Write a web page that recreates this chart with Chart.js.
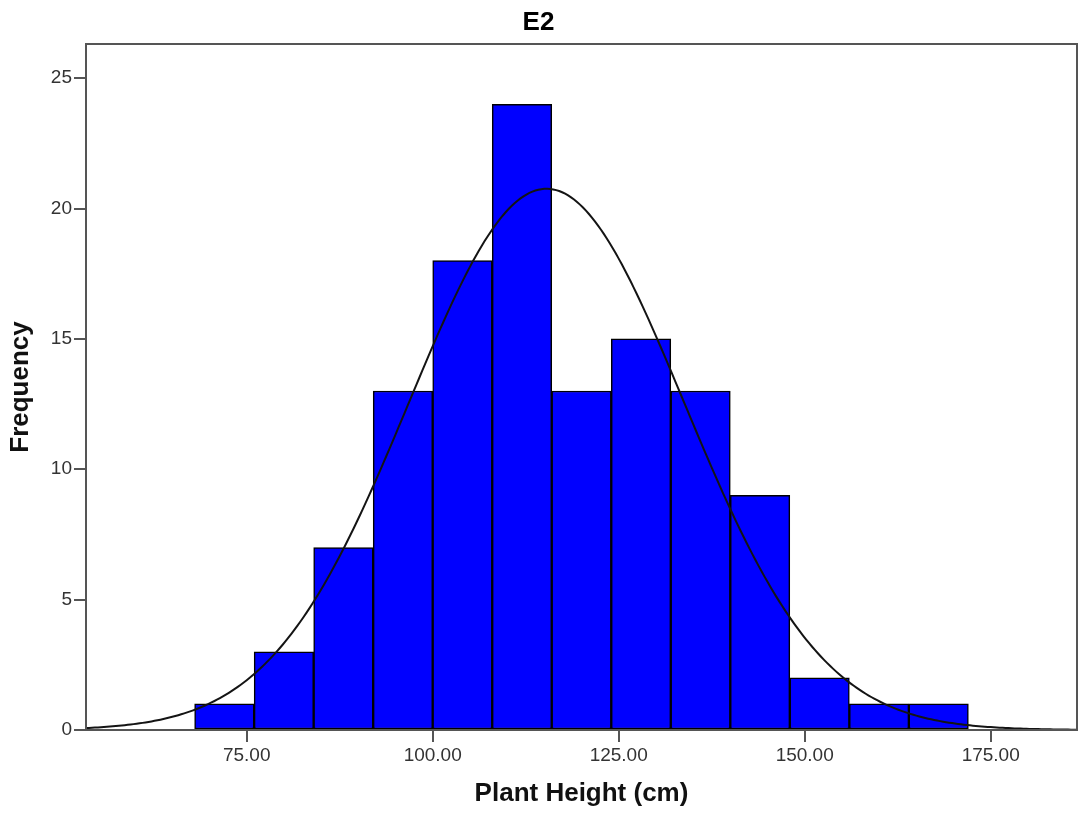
<!DOCTYPE html>
<html>
<head>
<meta charset="utf-8">
<title>E2</title>
<script src="https://cdn.jsdelivr.net/npm/chart.js@4.4.1/dist/chart.umd.min.js"></script>
<style>
  html, body { margin: 0; padding: 0; background: #ffffff; }
  canvas { display: block; }
</style>
</head>
<body>
<canvas id="chart" width="1082" height="820"></canvas>
<script>
// Histogram bins: lower edge of each bin and its count
const binStarts = [68, 76, 84, 92, 100, 108, 116, 124, 132, 140, 148, 156, 164];
const binWidth = 8;
const frequencies = [1, 3, 7, 13, 18, 24, 13, 15, 13, 9, 2, 1, 1];

// Normal curve parameters for the overlay
const sampleMean = 115.3;
const sampleSD = 18.45;

// Axis ticks and ranges
const xTickValues = [75, 100, 125, 150, 175];
const yTickValues = [0, 5, 10, 15, 20, 25];
const xRange = [53.4, 186.6];
const yMax = 26.31;

const sampleSize = frequencies.reduce((a, b) => a + b, 0);

const barPoints = binStarts.map((start, i) => ({ x: start + binWidth / 2, y: frequencies[i] }));

// Expected counts per bin under the fitted normal distribution
const curvePoints = [];
for (let x = xRange[0]; x <= xRange[1] + 1e-9; x += 0.4) {
  const z = (x - sampleMean) / sampleSD;
  const density = Math.exp(-0.5 * z * z) / (sampleSD * Math.sqrt(2 * Math.PI));
  curvePoints.push({ x: x, y: sampleSize * binWidth * density });
}

Chart.defaults.font.family = '"Liberation Sans", Arial, Helvetica, sans-serif';

// Box around the plotting area
const plotFrame = {
  id: 'plotFrame',
  afterDatasetsDraw(chart) {
    const { ctx, chartArea } = chart;
    ctx.save();
    ctx.strokeStyle = '#555555';
    ctx.lineWidth = 2;
    ctx.strokeRect(chartArea.left, chartArea.top, chartArea.right - chartArea.left, chartArea.bottom - chartArea.top);
    ctx.restore();
  }
};

new Chart(document.getElementById('chart').getContext('2d'), {
  type: 'bar',
  data: {
    datasets: [
      {
        type: 'line',
        data: curvePoints,
        borderColor: '#141414',
        borderWidth: 2,
        pointRadius: 0,
        tension: 0,
        fill: false,
        order: 0
      },
      {
        type: 'bar',
        data: barPoints,
        backgroundColor: '#0000ff',
        borderColor: '#000000',
        borderWidth: 1.5,
        borderSkipped: false,
        barPercentage: 1,
        categoryPercentage: 1,
        order: 1
      }
    ]
  },
  options: {
    responsive: false,
    animation: false,
    devicePixelRatio: 1,
    layout: { padding: { top: 0, right: 5, bottom: 0, left: 0 } },
    plugins: {
      legend: { display: false },
      tooltip: { enabled: false },
      title: {
        display: true,
        text: 'E2',
        color: '#000000',
        font: { size: 26, weight: 'bold', lineHeight: 1.2 },
        padding: { top: 7, bottom: 5.8 }
      }
    },
    scales: {
      x: {
        type: 'linear',
        offset: false,
        min: xRange[0],
        max: xRange[1],
        afterBuildTicks: (scale) => { scale.ticks = xTickValues.map(v => ({ value: v })); },
        afterFit: (scale) => { scale.height = 90; },
        ticks: {
          color: '#333333',
          font: { size: 19 },
          padding: 2,
          maxRotation: 0,
          autoSkip: false,
          callback: (v) => Number(v).toFixed(2)
        },
        grid: { offset: false, drawOnChartArea: false, tickLength: 12, color: '#555555', lineWidth: 2 },
        border: { display: true, color: '#555555', width: 2 },
        title: {
          display: true,
          text: 'Plant Height (cm)',
          color: '#111111',
          font: { size: 26, weight: 'bold', lineHeight: 1.2 },
          padding: { top: 0, bottom: 10.4 }
        }
      },
      y: {
        type: 'linear',
        min: 0,
        max: yMax,
        afterBuildTicks: (scale) => { scale.ticks = yTickValues.map(v => ({ value: v })); },
        afterFit: (scale) => { scale.width = 86; },
        ticks: {
          color: '#333333',
          font: { size: 19 },
          padding: 2
        },
        grid: { drawOnChartArea: false, tickLength: 12, color: '#555555', lineWidth: 2 },
        border: { display: true, color: '#555555', width: 2 },
        title: {
          display: true,
          text: 'Frequency',
          color: '#111111',
          font: { size: 26, weight: 'bold', lineHeight: 1.2 },
          padding: { top: 5.4, bottom: 0 }
        }
      }
    }
  },
  plugins: [plotFrame]
});
</script>
</body>
</html>
